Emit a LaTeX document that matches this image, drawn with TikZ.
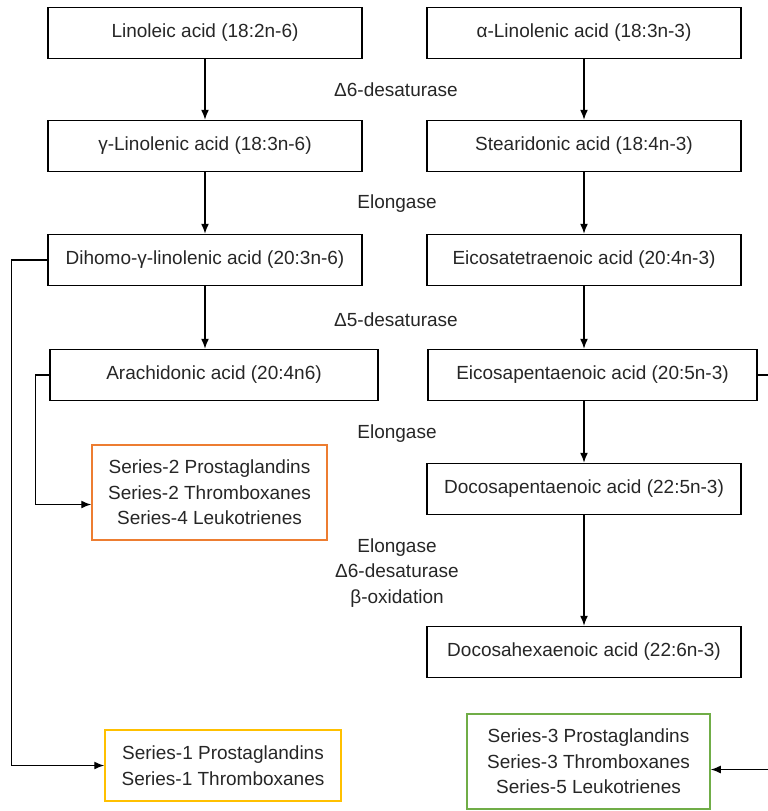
\documentclass[tikz,border=0pt]{standalone}
\usepackage{fontspec}
\setmainfont{Liberation Sans}
\usetikzlibrary{arrows.meta}
\definecolor{seriesorange}{RGB}{237,125,49}
\definecolor{seriesyellow}{RGB}{255,192,0}
\definecolor{seriesgreen}{RGB}{112,173,71}

\begin{document}
\begin{tikzpicture}[x=1pt,y=-1pt,
    acid/.style={draw,line width=1.5pt,minimum width=314pt,minimum height=51pt,inner sep=0pt,text=black!85,font=\fontsize{19}{22}\selectfont},
    series/.style={draw,line width=1.5pt,inner sep=0pt,align=center,text=black!85,font=\fontsize{19}{25.5}\selectfont},
    enzyme/.style={align=center,text=black!85,font=\fontsize{19}{25.5}\selectfont},
    flow/.style={line width=1.4pt,-{Latex[length=10pt,width=8pt]}}]
    \useasboundingbox (0,0) rectangle (768,811);
    % omega-6 side
    \node[acid] (lin) at (205,33) {Linoleic acid (18:2n-6)};
    \node[acid] (gla) at (205,146) {γ-Linolenic acid (18:3n-6)};
    \node[acid] (dgla) at (205,260) {Dihomo-γ-linolenic acid (20:3n-6)};
    \node[acid,minimum width=328pt] (ara) at (214,375) {Arachidonic acid (20:4n6)};
    % omega-3 side
    \node[acid] (ala) at (584,33) {α-Linolenic acid (18:3n-3)};
    \node[acid] (sda) at (584,146) {Stearidonic acid (18:4n-3)};
    \node[acid] (eta) at (584,260) {Eicosatetraenoic acid (20:4n-3)};
    \node[acid,minimum width=329pt] (epa) at (592.5,375) {Eicosapentaenoic acid (20:5n-3)};
    \node[acid] (dpa) at (584,489) {Docosapentaenoic acid (22:5n-3)};
    \node[acid] (dha) at (584,652) {Docosahexaenoic acid (22:6n-3)};
    % eicosanoids
    \node[series,draw=seriesorange,minimum width=235pt,minimum height=95pt] (s2) at (209.5,492.5)
        {Series-2 Prostaglandins\\Series-2 Thromboxanes\\Series-4 Leukotrienes};
    \node[series,draw=seriesyellow,minimum width=236pt,minimum height=71pt] (s1) at (223,765.5)
        {Series-1 Prostaglandins\\Series-1 Thromboxanes};
    \node[series,draw=seriesgreen,minimum width=243pt,minimum height=95pt] (s3) at (588.5,761.5)
        {Series-3 Prostaglandins\\Series-3 Thromboxanes\\Series-5 Leukotrienes};
    % enzymes
    \node[enzyme] (d6) at (396,90) {Δ6-desaturase};
    \node[enzyme] (elo1) at (397,204) {Elongase};
    \node[enzyme] (d5) at (396,320) {Δ5-desaturase};
    \node[enzyme] (elo2) at (397,434) {Elongase};
    \node[enzyme] (retro) at (397,573) {Elongase\\Δ6-desaturase\\β-oxidation};
    % arrows
    \draw[flow] (lin) -- (gla);
    \draw[flow] (gla) -- (dgla);
    \draw[flow] (dgla.south) -- (dgla.south |- ara.north);
    \draw[flow] (ala) -- (sda);
    \draw[flow] (sda) -- (eta);
    \draw[flow] (eta.south) -- (eta.south |- epa.north);
    \draw[flow] (dpa.north |- epa.south) -- (dpa.north);
    \draw[flow] (dpa) -- (dha);
    \draw[flow] (dgla.west) -- ++(-36,0) |- (s1.west);
    \draw[flow] (ara.west) -- ++(-14,0) |- ([yshift=-12pt]s2.west);
    \draw[flow] (epa.east) -- ++(20,0) |- ([yshift=-8pt]s3.east);
\end{tikzpicture}
\end{document}
